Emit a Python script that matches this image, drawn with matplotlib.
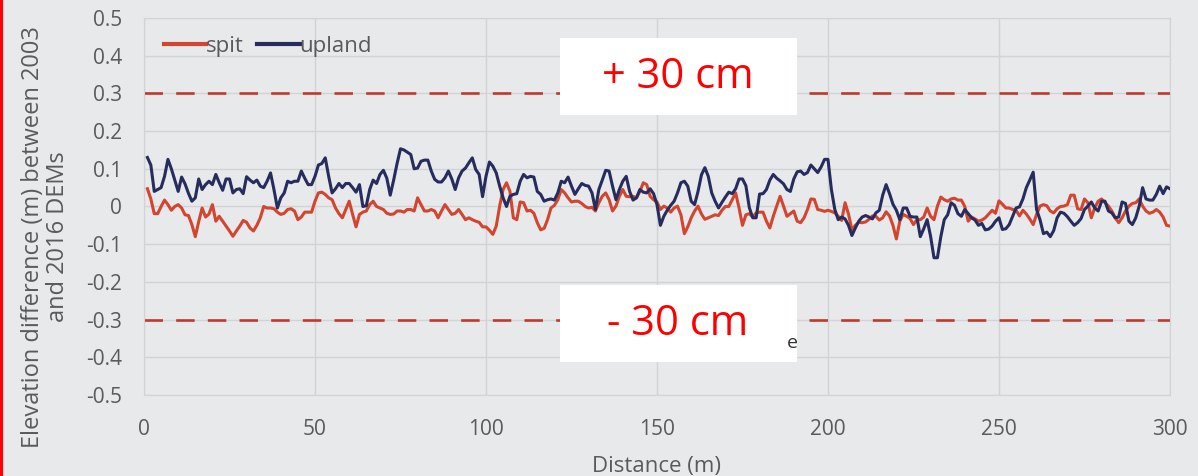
import numpy as np
import matplotlib
matplotlib.use('Agg')
import matplotlib.pyplot as plt
from matplotlib.patches import Rectangle

# distance along the transect (m), one sample per metre
distance = np.arange(1, 301)

spit = [
    0.047, 0.02, -0.019, -0.019, 0.0, 0.017, 0.005, -0.01, 0.0, 0.005,
    -0.004, -0.022, -0.024, -0.048, -0.08, -0.04, -0.004, -0.028, -0.02, 0.005,
    -0.039, -0.026, -0.039, -0.052, -0.065, -0.079, -0.065, -0.052, -0.037, -0.042,
    -0.057, -0.065, -0.05, -0.03, 0.0, -0.004, -0.004, -0.006, -0.015, -0.021,
    -0.018, -0.008, -0.006, -0.012, -0.035, -0.028, -0.015, -0.015, -0.015, 0.014,
    0.036, 0.038, 0.032, 0.023, 0.018, -0.004, -0.019, -0.03, -0.008, 0.014,
    -0.021, -0.054, -0.021, -0.015, -0.012, 0.005, 0.014, 0.0, -0.004, -0.008,
    -0.018, -0.021, -0.02, -0.012, -0.012, -0.015, -0.008, -0.008, -0.012, 0.023,
    0.005, -0.012, -0.012, -0.008, -0.012, -0.03, -0.012, 0.005, -0.008, -0.021,
    -0.018, -0.008, -0.021, -0.035, -0.03, -0.035, -0.039, -0.042, -0.054, -0.054,
    -0.063, -0.074, -0.052, 0.001, 0.045, 0.063, 0.04, -0.03, -0.035, 0.012,
    0.01, -0.012, -0.01, -0.018, -0.043, -0.062, -0.058, -0.035, -0.004, 0.003,
    0.018, 0.045, 0.036, 0.023, 0.012, 0.014, 0.014, 0.008, 0.0, -0.004,
    -0.002, -0.012, 0.01, 0.027, 0.036, 0.018, -0.012, 0.001, 0.027, 0.045,
    0.027, 0.026, 0.027, 0.023, 0.04, 0.063, 0.058, 0.027, 0.018, 0.012,
    -0.008, 0.001, -0.004, -0.015, -0.004, 0.001, -0.022, -0.072, -0.054, -0.03,
    -0.012, 0.001, -0.02, -0.034, -0.03, -0.026, -0.022, -0.024, -0.01, 0.0,
    0.0, 0.018, 0.036, -0.004, -0.05, -0.022, -0.019, -0.028, -0.017, -0.015,
    -0.015, -0.039, -0.057, -0.026, 0.001, 0.027, 0.001, -0.026, -0.019, -0.012,
    -0.039, -0.043, -0.03, -0.008, 0.02, 0.019, -0.008, -0.01, -0.013, -0.01,
    -0.013, -0.017, -0.026, -0.037, 0.01, -0.02, -0.062, -0.05, -0.042, -0.043,
    -0.041, -0.034, -0.025, -0.026, -0.036, -0.03, -0.014, -0.025, -0.05, -0.086,
    -0.039, -0.021, -0.026, -0.032, -0.048, -0.035, -0.035, -0.028, -0.004, -0.026,
    -0.035, 0.001, 0.025, 0.018, 0.014, 0.02, 0.022, 0.017, 0.017, 0.0,
    -0.039, -0.028, -0.033, -0.039, -0.036, -0.03, -0.02, -0.01, -0.018, 0.015,
    0.006, -0.004, -0.004, -0.008, -0.01, -0.025, -0.01, -0.02, -0.033, -0.048,
    -0.021, 0.001, 0.005, 0.002, -0.012, -0.017, -0.006, 0.0, 0.001, 0.005,
    0.03, 0.03, -0.006, -0.008, 0.02, 0.01, -0.03, -0.004, 0.014, 0.02,
    0.01, 0.001, -0.012, -0.03, -0.043, -0.03, -0.012, 0.001, 0.008, 0.01,
    0.02, 0.001, -0.012, -0.018, -0.015, -0.008, -0.015, -0.028, -0.05, -0.052,
]

upland = [
    0.13, 0.11, 0.04, 0.045, 0.05, 0.08, 0.125, 0.10, 0.07, 0.04,
    0.078, 0.06, 0.035, 0.014, 0.023, 0.073, 0.045, 0.058, 0.067, 0.058,
    0.085, 0.063, 0.043, 0.073, 0.073, 0.036, 0.045, 0.047, 0.034, 0.079,
    0.07, 0.063, 0.07, 0.054, 0.05, 0.067, 0.089, 0.045, -0.004, 0.023,
    0.036, 0.067, 0.063, 0.067, 0.067, 0.094, 0.075, 0.058, 0.058, 0.08,
    0.11, 0.114, 0.129, 0.08, 0.036, 0.047, 0.061, 0.05, 0.061, 0.061,
    0.05, 0.038, 0.058, 0.0, 0.002, 0.045, 0.07, 0.061, 0.085, 0.096,
    0.075, 0.03, 0.07, 0.114, 0.153, 0.15, 0.144, 0.138, 0.1, 0.102,
    0.12, 0.123, 0.123, 0.094, 0.072, 0.065, 0.065, 0.076, 0.094, 0.073,
    0.045, 0.076, 0.094, 0.102, 0.116, 0.129, 0.098, 0.085, 0.026, 0.08,
    0.118, 0.107, 0.089, 0.054, 0.023, 0.0, 0.027, 0.032, 0.034, 0.067,
    0.085, 0.076, 0.08, 0.078, 0.04, 0.032, 0.014, 0.018, 0.02, 0.017,
    0.036, 0.067, 0.063, 0.078, 0.054, 0.032, 0.047, 0.061, 0.056, 0.054,
    0.036, -0.008, 0.045, 0.07, 0.096, 0.094, 0.054, 0.018, 0.045, 0.067,
    0.08, 0.04, 0.017, 0.023, 0.045, 0.038, 0.036, 0.047, 0.034, 0.005,
    -0.05, -0.026, -0.01, 0.003, 0.014, 0.036, 0.063, 0.067, 0.054, 0.014,
    0.005, 0.04, 0.084, 0.103, 0.08, 0.036, 0.014, -0.004, 0.011, 0.025,
    0.038, 0.034, 0.047, 0.073, 0.073, 0.055, -0.003, -0.03, -0.03, 0.033,
    0.034, 0.045, 0.07, 0.085, 0.075, 0.068, 0.06, 0.045, 0.04, 0.073,
    0.092, 0.094, 0.085, 0.09, 0.11, 0.1, 0.09, 0.105, 0.125, 0.125,
    0.045, -0.008, -0.035, -0.028, -0.033, -0.05, -0.077, -0.057, -0.039, -0.028,
    -0.024, -0.028, -0.033, -0.017, -0.01, 0.03, 0.058, 0.034, 0.006, -0.01,
    -0.035, -0.004, -0.004, -0.026, -0.028, -0.028, -0.08, -0.059, -0.035, -0.079,
    -0.136, -0.136, -0.08, -0.035, -0.022, 0.01, 0.003, -0.019, -0.026, -0.008,
    -0.019, -0.03, -0.036, -0.05, -0.045, -0.062, -0.06, -0.052, -0.039, -0.03,
    -0.061, -0.059, -0.048, -0.026, -0.004, -0.001, 0.02, 0.05, 0.07, 0.091,
    -0.008, -0.035, -0.072, -0.068, -0.08, -0.064, -0.03, -0.015, -0.018, -0.027,
    -0.039, -0.05, -0.043, -0.032, -0.008, 0.001, 0.012, -0.004, -0.012, 0.014,
    0.014, -0.012, -0.017, -0.03, -0.028, 0.012, 0.008, -0.039, -0.048, -0.03,
    0.001, 0.05, 0.02, 0.017, 0.017, 0.032, 0.054, 0.034, 0.052, 0.047,
]

threshold = 0.3
x_ticks = [0, 50, 100, 150, 200, 250, 300]
y_ticks = [0.5, 0.4, 0.3, 0.2, 0.1, 0, -0.1, -0.2, -0.3, -0.4, -0.5]
y_tick_labels = ['0.5', '0.4', '0.3', '0.2', '0.1', '0', '-0.1', '-0.2', '-0.3', '-0.4', '-0.5']

bg = '#e8e9eb'
gridc = '#d2d3d6'
textc = '#5a5a5a'
plt.rcParams['font.family'] = ['Open Sans', 'DejaVu Sans']

fig = plt.figure(figsize=(11.98, 4.76), dpi=100, facecolor=bg)
ax = fig.add_axes([0.1202, 0.1702, 0.8564, 0.7920], facecolor=bg)

ax.plot(distance, spit, color='#d2452f', lw=2.2, label='spit', zorder=3)
ax.plot(distance, upland, color='#262c5e', lw=2.2, label='upland', zorder=3)
ax.axhline(threshold, color='#c0392b', lw=1.9, dashes=(7, 5), zorder=2)
ax.axhline(-threshold, color='#c0392b', lw=1.9, dashes=(7, 5), zorder=2)

ax.set_xlim(0, 300)
ax.set_ylim(-0.5, 0.5)
ax.set_xticks(x_ticks)
ax.set_yticks(y_ticks)
ax.set_yticklabels(y_tick_labels)
ax.tick_params(length=0, labelsize=15, colors=textc)
ax.tick_params(axis='x', pad=17)
ax.tick_params(axis='y', pad=16)
ax.grid(True, color=gridc, lw=1)
for s in ax.spines.values():
    s.set_color(gridc)

ax.set_xlabel('Distance (m)', fontsize=16, color=textc, labelpad=12)
fig.text(0.038, 0.503, 'Elevation difference (m) between 2003\nand 2016 DEMs',
         rotation=90, ha='center', va='center', fontsize=17, color=textc,
         multialignment='center', linespacing=1.02)

leg = ax.legend(loc='upper left', ncol=2, frameon=False, fontsize=16,
                handlelength=1.9, handletextpad=0.0, columnspacing=0.6,
                bbox_to_anchor=(0.0, 1.005), labelcolor=textc)
for line in leg.get_lines():
    line.set_linewidth(3)

# white labels over the chart
ax.text(0.627, 0.138, 'e', transform=ax.transAxes, fontsize=14, color='#333333',
        ha='left', va='center', zorder=7)
for y0, label in [(0.743, '+ 30 cm'), (0.0875, '- 30 cm')]:
    ax.add_patch(Rectangle((0.405, y0), 0.231, 0.205, transform=ax.transAxes,
                           facecolor='white', edgecolor='none', zorder=5, clip_on=False))
    ax.text(0.5205, y0 + 0.1, label, transform=ax.transAxes, fontsize=30,
            color='#ff0000', ha='center', va='center', zorder=6)

fig.add_artist(Rectangle((0, 0), 0.0028, 1, transform=fig.transFigure,
                         facecolor='#ff0000', edgecolor='none'))

fig.savefig('out.png', dpi=100, facecolor=bg)
